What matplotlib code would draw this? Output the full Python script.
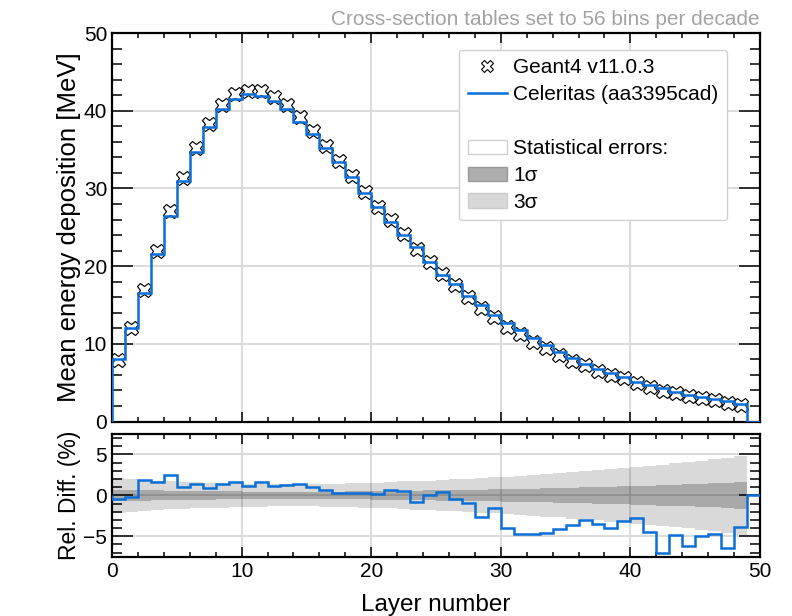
import numpy as np
import matplotlib
matplotlib.use("Agg")
import matplotlib.pyplot as plt
from matplotlib.lines import Line2D
from matplotlib.patches import Patch

plt.rcParams["font.family"] = ["Liberation Sans", "DejaVu Sans"]

# Mean energy deposition per layer (MeV), Celeritas run; last layer empty
celeritas_edep = [
    8.0, 12.0, 16.6, 21.6, 26.4, 31.0, 34.7, 37.9, 40.2, 41.5,
    42.1, 41.9, 41.3, 40.2, 38.6, 37.0, 35.2, 33.4, 31.5, 29.4,
    27.6, 25.7, 24.0, 22.4, 20.5, 18.9, 17.65, 16.2, 15.0, 13.7,
    12.7, 11.8, 10.7, 9.85, 8.9, 8.13, 7.44, 6.76, 6.2, 5.73,
    5.13, 4.65, 4.27, 3.84, 3.45, 3.2, 2.94, 2.6, 2.25, 0.0,
]

# Relative difference of Geant4 with respect to Celeritas (%), per layer
rel_diff = [
    -0.43, -0.2, 1.85, 1.69, 2.5, 1.04, 1.36, 0.95, 1.4, 1.69,
    1.12, 1.65, 1.08, 1.32, 1.44, 1.04, 0.63, 0.26, 0.26, 0.26,
    0.14, 0.67, 0.51, -0.84, 0.06, 0.43, -0.51, -0.96, -2.64, -1.49,
    -3.98, -4.67, -4.67, -4.55, -4.15, -3.66, -2.96, -3.45, -4.02, -3.12,
    -2.8, -4.43, -7.08, -4.88, -6.23, -5.0, -4.67, -6.47, -3.9, 0.0,
]

# Three-sigma statistical error band half-width (%), layers 0-48
err_3sigma = [
    2.1, 2.0, 1.9, 1.8, 1.7, 1.65, 1.6, 1.55, 1.5, 1.45,
    1.4, 1.4, 1.35, 1.35, 1.35, 1.35, 1.4, 1.4, 1.45, 1.5,
    1.55, 1.6, 1.7, 1.75, 1.8, 1.9, 1.95, 2.0, 2.1, 2.2,
    2.3, 2.4, 2.5, 2.6, 2.7, 2.85, 2.95, 3.05, 3.2, 3.3,
    3.45, 3.6, 3.75, 3.9, 4.05, 4.2, 4.4, 4.6, 4.85,
]

n_layers = len(celeritas_edep)
edges = np.arange(n_layers + 1)
cel = np.array(celeritas_edep)
rd = np.array(rel_diff)
g4 = cel * (1.0 + rd / 100.0)
n_g4 = n_layers - 1  # layers with Geant4 data
centers = edges[:-1] + 0.5

e3 = np.array(err_3sigma)
e1 = e3 / 3.0
band_edges = edges[: len(e3) + 1]

blue = "#0b6fd6"
grid_kw = dict(color="#d6d6d6", linewidth=1.2)

fig = plt.figure(figsize=(7.92, 6.16), dpi=100)
ax = fig.add_axes([0.1414, 0.3157, 0.8182, 0.6307])
axr = fig.add_axes([0.1414, 0.0963, 0.8182, 0.1992], sharex=ax)

# --- main panel ---
ax.plot(centers[:n_g4], g4[:n_g4], linestyle="none", marker="X",
        markersize=10.5, markerfacecolor="white", markeredgecolor="black",
        markeredgewidth=0.85, zorder=2)
ax.stairs(cel, edges, baseline=0, color=blue, linewidth=1.8, zorder=3)
ax.set_xlim(0, 50)
ax.set_ylim(0, 50)
ax.set_ylabel("Mean energy deposition [MeV]", fontsize=18.5)
ax.grid(True, which="major", **grid_kw)
ax.set_axisbelow(True)
ax.set_title("Cross-section tables set to 56 bins per decade", loc="right",
             fontsize=15, color="#a3a3a3", pad=6)

# --- ratio panel ---
axr.stairs(e3, band_edges, baseline=-e3, fill=True, color="black",
           alpha=0.15, linewidth=0, zorder=1)
axr.stairs(e1, band_edges, baseline=-e1, fill=True, color="black",
           alpha=0.22, linewidth=0, zorder=1.1)
axr.stairs(rd, edges, color=blue, linewidth=1.8, zorder=3)
axr.set_ylim(-7.5, 7.5)
axr.set_yticks([-5, 0, 5])
axr.set_xlabel("Layer number", fontsize=17.5, labelpad=10)
axr.set_ylabel("Rel. Diff. (%)", fontsize=16.5)
axr.grid(True, which="major", **grid_kw)
axr.set_axisbelow(True)

for a in (ax, axr):
    for s in a.spines.values():
        s.set_linewidth(1.6)
    a.tick_params(which="both", direction="in", top=True, right=True,
                  labelsize=15, width=1.1)
    a.tick_params(axis="y", which="major", length=15)
    a.tick_params(axis="y", which="minor", length=7.5)
    a.tick_params(axis="x", which="major", length=7.5)
    a.tick_params(axis="x", which="minor", length=3.5)
    a.xaxis.set_minor_locator(matplotlib.ticker.MultipleLocator(2))
    a.yaxis.set_label_coords(-0.048, 0.5)

ax.yaxis.set_minor_locator(matplotlib.ticker.MultipleLocator(2))
axr.yaxis.set_minor_locator(matplotlib.ticker.MultipleLocator(1))
ax.tick_params(axis="x", labelbottom=False)
axr.set_xticks([0, 10, 20, 30, 40, 50])

# --- legend ---
handles = [
    Line2D([], [], linestyle="none", marker="X", markersize=9,
           markerfacecolor="white", markeredgecolor="black",
           markeredgewidth=0.8),
    Line2D([], [], color=blue, linewidth=1.8),
    Line2D([], [], linestyle="none"),
    Patch(facecolor="white", edgecolor="#d0d0d0"),
    Patch(facecolor="#aeaeae", edgecolor="#9a9a9a"),
    Patch(facecolor="#d9d9d9", edgecolor="#cccccc"),
]
labels = ["Geant4 v11.0.3", "Celeritas (aa3395cad)", " ",
          "Statistical errors:", "1σ", "3σ"]
leg = ax.legend(handles, labels, loc="upper right",
                bbox_to_anchor=(0.949, 0.956), borderaxespad=0,
                fontsize=15, handletextpad=0.3, handlelength=1.9,
                borderpad=0.4, labelspacing=0.38, framealpha=1,
                fancybox=True)
leg.get_frame().set_edgecolor("#d0d0d0")
leg.get_frame().set_linewidth(1.0)
leg.get_frame().set_boxstyle("round,pad=0,rounding_size=0.15")

fig.savefig("out.png", dpi=100)
